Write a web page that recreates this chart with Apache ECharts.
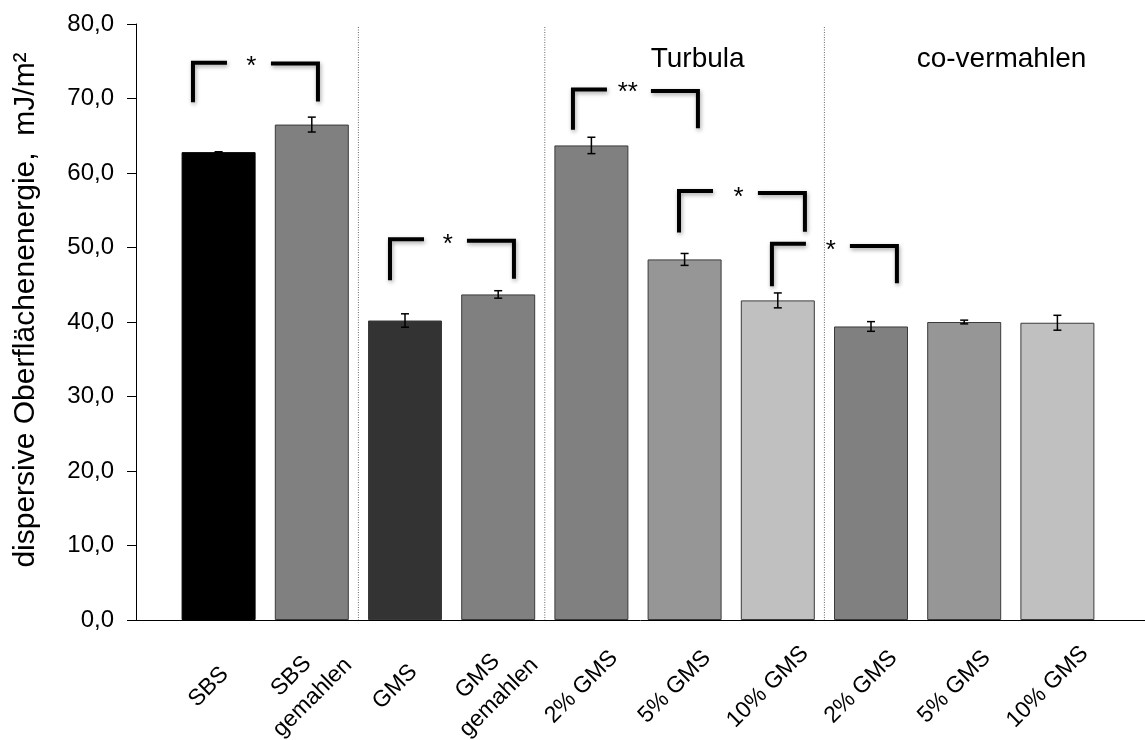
<!DOCTYPE html>
<html>
<head>
<meta charset="utf-8">
<script src="https://cdn.jsdelivr.net/npm/echarts@6/dist/echarts.min.js"></script>
<style>html,body{margin:0;padding:0;background:#fff}#c{width:1145px;height:740px}</style>
</head>
<body>
<div id="c"></div>
<script>
// ---- data ----
const categories = ['SBS', 'SBS\ngemahlen', 'GMS', 'GMS\ngemahlen', '2% GMS', '5% GMS', '10% GMS', '2% GMS', '5% GMS', '10% GMS'];
const values = [62.8, 66.5, 40.2, 43.7, 63.7, 48.4, 42.9, 39.4, 40.0, 39.9];
const errors = [0.05, 1.0, 0.9, 0.5, 1.1, 0.8, 1.0, 0.65, 0.25, 1.0];
const barColors = ['#000000', '#808080', '#333333', '#808080', '#808080', '#969696', '#c0c0c0', '#808080', '#969696', '#c0c0c0'];
const yTicks = [0, 10, 20, 30, 40, 50, 60, 70, 80];
const yTitle = 'dispersive Oberflächenenergie,  mJ/m²';
// group separators (between categories) and group titles
const separators = [1.5, 3.5, 6.5];
const groupTitles = [['Turbula', 5.14, 75.2], ['co-vermahlen', 8.40, 75.2]];
// significance brackets: x in category units, y in data units
const brackets = [
  {x1: -0.275, x2: 1.066, topL: 74.8, topR: 74.7, botL: 69.5, botR: 69.6, sx: 0.35, sy: 74.3, label: '*'},
  {x1: 1.839, x2: 3.169, topL: 51.1, topR: 50.9, botL: 45.6, botR: 45.8, sx: 2.46, sy: 50.4, label: '*'},
  {x1: 3.802, x2: 5.143, topL: 71.2, topR: 71.0, botL: 65.8, botR: 66.0, sx: 4.39, sy: 70.7, label: '**'},
  {x1: 4.94, x2: 6.291, topL: 57.6, topR: 57.3, botL: 52.0, botR: 52.1, sx: 5.58, sy: 56.7, label: '*'},
  {x1: 5.937, x2: 7.278, topL: 50.5, topR: 50.2, botL: 44.8, botR: 45.2, sx: 6.57, sy: 49.6, label: '*'}
];

const FONT = '"Liberation Sans", Arial, sans-serif';
const chart = echarts.init(document.getElementById('c'));

function px(api, xf, y) {
  const a = api.coord([0, y]);
  const b = api.coord([1, y]);
  return [a[0] + xf * (b[0] - a[0]), a[1]];
}

const lineShadow = {shadowBlur: 4, shadowColor: 'rgba(0,0,0,0.35)', shadowOffsetX: 1, shadowOffsetY: 2};

chart.setOption({
  animation: false,
  backgroundColor: '#fff',
  grid: [
    {left: 172, right: 41, top: 24, bottom: 120, outerBoundsMode: 'none', containLabel: false},
    {left: 136, right: 0, top: 24, bottom: 120, outerBoundsMode: 'none', containLabel: false}
  ],
  xAxis: [
    {
      type: 'category', gridIndex: 0, data: categories,
      axisLine: {show: false}, axisTick: {show: false},
      axisLabel: {
        interval: 0, rotate: 45, margin: 57, color: '#000', fontSize: 23, fontFamily: FONT,
        align: 'center', verticalAlign: 'middle', lineHeight: 30, padding: [0, 28, 0, 0]
      }
    },
    {
      type: 'value', gridIndex: 1, min: 0, max: 1,
      axisLine: {show: true, lineStyle: {color: '#000', width: 1}},
      axisTick: {show: false}, axisLabel: {show: false}, splitLine: {show: false}
    }
  ],
  yAxis: [
    {
      type: 'value', gridIndex: 0, min: yTicks[0], max: yTicks[yTicks.length - 1], interval: 10,
      offset: 36,
      axisLine: {show: true, lineStyle: {color: '#000', width: 1}},
      axisTick: {show: true, length: 9, lineStyle: {color: '#000'}},
      splitLine: {show: false},
      axisLabel: {
        margin: 22, color: '#000', fontSize: 24, fontFamily: FONT,
        formatter: v => v.toFixed(1).replace('.', ',')
      },
      name: yTitle, nameLocation: 'middle', nameRotate: 90, nameGap: 95,
      nameTextStyle: {fontSize: 30, fontFamily: FONT, color: '#000', padding: [0, 0, 0, 24]}
    },
    {type: 'value', gridIndex: 1, min: 0, max: 80, show: false}
  ],
  series: [
    {
      type: 'bar', xAxisIndex: 0, yAxisIndex: 0, barWidth: 74,
      data: values.map((v, i) => ({
        value: v,
        itemStyle: {color: barColors[i], borderColor: i === 0 ? '#000' : '#3a3a3a', borderWidth: 1}
      }))
    },
    {
      type: 'custom', xAxisIndex: 0, yAxisIndex: 0, z: 5,
      data: values.map((v, i) => [i, v - errors[i], v + errors[i]]),
      renderItem: function (params, api) {
        const lo = api.coord([api.value(0), api.value(1)]);
        const hi = api.coord([api.value(0), api.value(2)]);
        const w = 4;
        const st = {stroke: '#000', lineWidth: 1.5};
        return {type: 'group', children: [
          {type: 'line', shape: {x1: hi[0], y1: hi[1], x2: lo[0], y2: lo[1]}, style: st},
          {type: 'line', shape: {x1: hi[0] - w, y1: hi[1], x2: hi[0] + w, y2: hi[1]}, style: st},
          {type: 'line', shape: {x1: lo[0] - w, y1: lo[1], x2: lo[0] + w, y2: lo[1]}, style: st}
        ]};
      }
    },
    {
      type: 'custom', xAxisIndex: 0, yAxisIndex: 0, z: 1,
      data: separators.map(s => [s, 0]),
      renderItem: function (params, api) {
        const s = separators[params.dataIndex];
        const top = px(api, s, 80);
        const bot = px(api, s, 0);
        return {type: 'line', shape: {x1: top[0], y1: top[1] + 3, x2: bot[0], y2: bot[1]},
          style: {stroke: '#666', lineWidth: 1, lineDash: [1, 1.5]}};
      }
    },
    {
      type: 'custom', xAxisIndex: 0, yAxisIndex: 0, z: 6,
      data: groupTitles.map(g => [g[1], g[2]]),
      renderItem: function (params, api) {
        const g = groupTitles[params.dataIndex];
        const p = px(api, g[1], g[2]);
        return {type: 'text', style: {text: g[0], x: p[0], y: p[1], align: 'center', verticalAlign: 'middle',
          font: '28px ' + FONT, fill: '#000'}};
      }
    },
    {
      type: 'custom', xAxisIndex: 0, yAxisIndex: 0, z: 7,
      data: brackets.map(b => [b.x1, b.topL]),
      renderItem: function (params, api) {
        const b = brackets[params.dataIndex];
        const lb = px(api, b.x1, b.botL), lt = px(api, b.x1, b.topL);
        const rb = px(api, b.x2, b.botR), rt = px(api, b.x2, b.topR);
        const st = Object.assign({stroke: '#000', lineWidth: 4, fill: null, lineJoin: 'miter', lineCap: 'butt'}, lineShadow);
        const sp = px(api, b.sx, b.sy);
        return {type: 'group', children: [
          {type: 'polyline', shape: {points: [[lb[0], lb[1]], [lt[0], lt[1]], [lt[0] + 34, lt[1]]]}, style: st},
          {type: 'polyline', shape: {points: [[rt[0] - 47, rt[1]], [rt[0], rt[1]], [rb[0], rb[1]]]}, style: st},
          {type: 'text', style: {text: b.label, x: sp[0], y: sp[1], align: 'center', verticalAlign: 'middle',
            font: '26px ' + FONT, fill: '#000'}}
        ]};
      }
    }
  ]
});
</script>
</body>
</html>
